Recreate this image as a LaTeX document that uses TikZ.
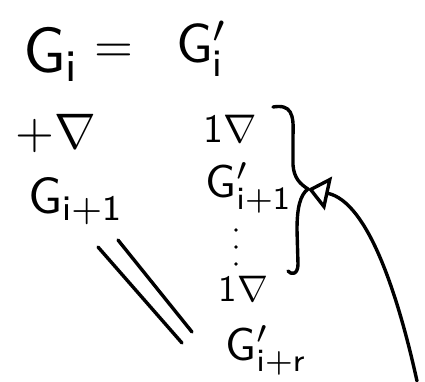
\documentclass[tikz,border=0pt]{standalone}
\usepackage{fontspec}
\usetikzlibrary{arrows.meta}

% pen strokes and hand-lettered terms
\tikzset{
  ink/.style={line width=3.4pt, line cap=round, line join=round},
  term/.style={inner sep=0pt, anchor=base west, font=\sffamily},
}
\newcommand{\gterm}[2]{$\mathsf{G}_{\mathsf{#1}}#2$}

\begin{document}
\begin{tikzpicture}[x=1pt,y=-1pt]
  \useasboundingbox (0,0) rectangle (425,381);
  % --- top line: G_i = G_i'
  \node[term, scale=6.4] (gi) at (22,72) {\gterm{i}{}};
  \node[inner sep=0pt, scale=5] (eqsign) at (114,53) {$=$};
  \node[term, scale=5.5] (gip) at (175,62) {\gterm{i}{'}};
  % --- left column
  \node[term, scale=5] (addnab) at (15,148) {$+\nabla$};
  \node[term, scale=5.1] (gnext) at (27,213) {\gterm{i+1}{}};
  % --- right column
  \node[term, scale=4] (onenab) at (203,142) {\textsf{1}$\nabla$};
  \node[term, scale=4.6] (gnextp) at (205,197) {\gterm{i+1}{'}};
  \foreach \y in {230,247,264}{
    \fill (236,\y) circle (1.8);}
  \node[term, scale=3.7] (onenabr) at (218,301) {\textsf{1}$\nabla$};
  \node[term, scale=4.6] (glast) at (225,360) {\gterm{i+r}{'}};
  % --- the two slanted strokes between G_{i+1} and G'_{i+r}
  \draw[ink] (98,247) -- (182,343);
  \draw[ink] (118,240) -- (192,332);
  % --- brace round the right column
  \coordinate (bracetip) at (308,189);
  \draw[ink] (273,107) .. controls (291,104) and (294,114) .. (293,135)
    -- (293,165) .. controls (294,178) and (300,184) .. (bracetip)
    .. controls (300,195) and (297,208) .. (297,230)
    -- (298,264) .. controls (298,275) and (291,275) .. (288,271);
  % --- pointer coming up from below into the brace
  \coordinate (tail) at (417,381);
  \draw[ink, -{Triangle[open, length=21pt, width=34pt]}]
    (tail) .. controls (398,295) and (368,202) .. (bracetip);
\end{tikzpicture}
\end{document}
